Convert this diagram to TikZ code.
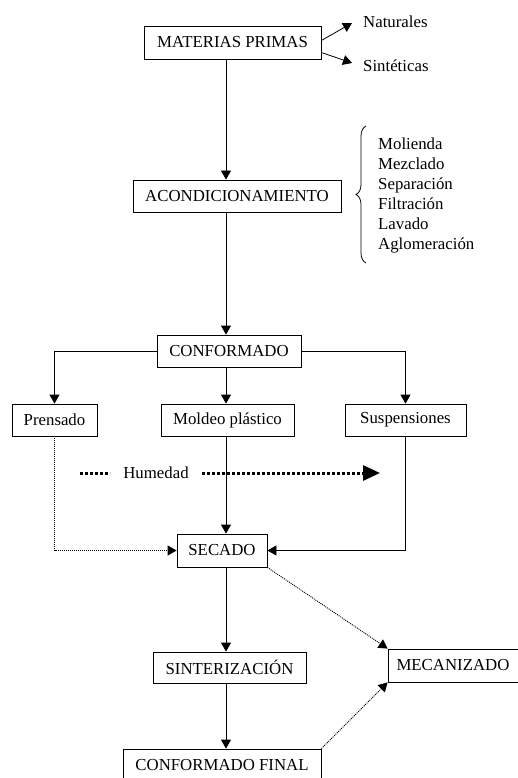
\documentclass[tikz,border=0pt]{standalone}
\usepackage{fontspec}
\setmainfont{Liberation Serif}
\usetikzlibrary{arrows.meta,decorations.pathreplacing,calc}
\begin{document}
\begin{tikzpicture}[x=1pt,y=-1pt,
  every node/.style={font=\fontsize{16.8}{20}\selectfont, inner sep=0pt},
  box/.style={draw, line width=0.8pt, minimum height=32pt},
  conn/.style={line width=0.8pt, -{Triangle[length=9pt,width=10pt]}},
  dotconn/.style={line width=0.9pt, dash pattern=on 1pt off 1pt, -{Triangle[length=9pt,width=10pt]}},
  thickdot/.style={line width=3pt, dash pattern=on 3pt off 2pt}
]
\useasboundingbox (0,0) rectangle (518,778);
\clip (0,0) rectangle (518,778);
\coordinate (ax) at (226,0);

\node[box, minimum width=177pt, minimum height=33pt] (mp) at (232.5,42.5) {MATERIAS PRIMAS};
\node[box, minimum width=208pt] (ac) at (237,196) {ACONDICIONAMIENTO};
\node[box, minimum width=144pt] (cf) at (229,351) {CONFORMADO};
\node[box, minimum width=85pt] (pr) at (54.5,420) {Prensado};
\node[box, minimum width=133pt] (mo) at (227.5,420) {Moldeo plástico};
\node[box, minimum width=121pt] (su) at (405.5,420) {Suspensiones};
\node[box, minimum width=90pt, minimum height=33pt] (se) at (222,550.5) {SECADO};
\node[box, minimum width=153pt, minimum height=31pt] (si) at (229.5,667.5) {SINTERIZACIÓN};
\node[box, minimum width=130pt, minimum height=33pt] (me) at (453,665.5) {MECANIZADO};
\node[box, minimum width=198pt] (fi) at (222,765) {CONFORMADO FINAL};

\node[anchor=west] (nat) at (363,22) {Naturales};
\node[anchor=west] (sin) at (363,66) {Sintéticas};
\draw[conn] ([yshift=2pt]mp.east) -- ([xshift=-11pt,yshift=-1pt]nat.west);
\draw[conn] ([yshift=-10pt]mp.east) -- ([xshift=-11pt,yshift=3pt]sin.west);

\draw[decorate, decoration={brace, amplitude=10pt}, line width=0.8pt] (366,263) -- (366,126);
\node[anchor=west, align=left] (list) at (378,195) {Molienda\\Mezclado\\Separación\\Filtración\\Lavado\\Aglomeración};

\draw[conn] (mp.south -| ax) -- (ac.north -| ax);
\draw[conn] (ac.south -| ax) -- (cf.north -| ax);
\draw[conn] (cf.west) -| (pr.north);
\draw[conn] (cf.east) -| (su.north);
\draw[conn] (cf.south -| ax) -- (mo.north -| ax);
\draw[conn] (mo.south -| ax) -- (se.north -| ax);
\draw[conn] (su.south) |- (se.east);
\draw[dotconn] (pr.south) |- (se.west);
\draw[conn] (se.south -| ax) -- (si.north -| ax);
\draw[conn] (si.south -| ax) -- (fi.north -| ax);
\draw[dotconn] (se.south east) -- (me.north west);
\draw[dotconn] (fi.north east) -- (me.south west);

\node (hum) at (156,473) {Humedad};
\coordinate (h1) at (80,473);
\coordinate (h2) at (110,473);
\coordinate (h3) at (202,473);
\coordinate (h4) at (380,473);
\draw[thickdot] (h1) -- (h2);
\draw[thickdot, -{Triangle[length=17pt,width=15pt]}] (h3) -- (h4);
\end{tikzpicture}
\end{document}
